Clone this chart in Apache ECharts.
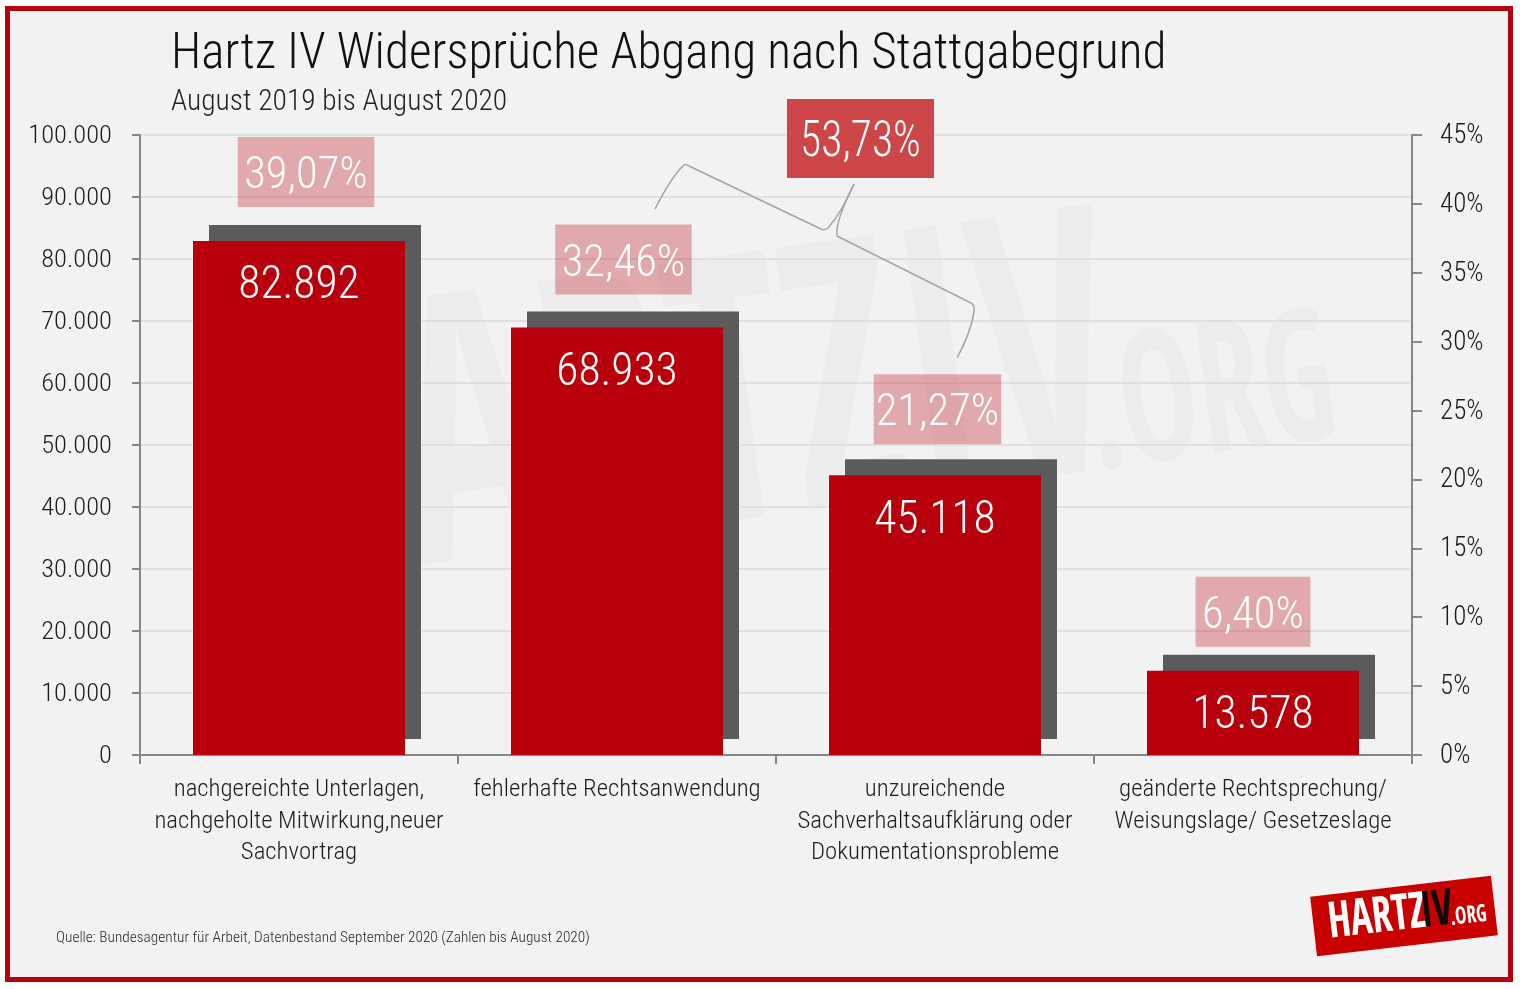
<!DOCTYPE html>
<html>
<head>
<meta charset="utf-8">
<title>Hartz IV Widersprüche</title>
<script src="https://cdn.jsdelivr.net/npm/echarts@6/dist/echarts.min.js"></script>
<style>
  html, body { margin: 0; padding: 0; background: #fff; }
  #chart { width: 1520px; height: 989px; }
</style>
</head>
<body>
<div id="chart"></div>
<script>
var categories = [
  'nachgereichte Unterlagen,\nnachgeholte Mitwirkung,neuer\nSachvortrag',
  'fehlerhafte Rechtsanwendung',
  'unzureichende\nSachverhaltsaufklärung oder\nDokumentationsprobleme',
  'geänderte Rechtsprechung/\nWeisungslage/ Gesetzeslage'
]
var counts = [82892, 68933, 45118, 13578]
var shares = ['39,07%', '32,46%', '21,27%', '6,40%']
var combinedShare = '53,73%'

var titleText = 'Hartz IV Widersprüche Abgang nach Stattgabegrund'
var subtitleText = 'August 2019 bis August 2020'
var sourceText = 'Quelle: Bundesagentur für Arbeit, Datenbestand September 2020 (Zahlen bis August 2020)'

var narrow = '"Roboto Condensed Light", "Roboto Condensed", sans-serif'
var heavy = '"Open Sans Condensed", "Roboto Condensed", sans-serif'
var red = '#b7000b'
var braceColor = '#a3a3a3'
var watermarkColor = 'rgba(0,0,0,0.022)'

function dotted(v) {
  return String(v).replace(/\B(?=(\d{3})+$)/g, '.')
}

// one piece of the bracket between the three share labels
function curve(x1, y1, cx, cy, x2, y2) {
  return {
    type: 'bezierCurve',
    z: 10,
    shape: { x1: x1, y1: y1, cpx1: cx, cpy1: cy, x2: x2, y2: y2 },
    style: { fill: null, stroke: braceColor, lineWidth: 1.5 }
  }
}
function straight(x1, y1, x2, y2) {
  return {
    type: 'line',
    z: 10,
    shape: { x1: x1, y1: y1, x2: x2, y2: y2 },
    style: { stroke: braceColor, lineWidth: 1.5 }
  }
}

// the share boxes do not sit the same way on every bar
var shareLabelOffsets = [[7, 0], [6.5, 1], [2.5, 3], [0, 10]]
var shareLabelSidePadding = [6.5, 6.5, 2, 6.5]

var chart = echarts.init(document.getElementById('chart'))

var option = {
  animation: false,
  textStyle: { fontFamily: narrow },
  title: {
    text: titleText,
    subtext: subtitleText,
    left: 166,
    top: 24,
    itemGap: 8,
    textStyle: { fontFamily: narrow, fontSize: 49.2, fontWeight: 'normal', color: '#111' },
    subtextStyle: { fontFamily: narrow, fontSize: 29.5, color: '#222' }
  },
  grid: { left: 140, right: 108, top: 135, bottom: 234 },
  xAxis: {
    type: 'category',
    data: categories,
    axisLine: { lineStyle: { color: '#868686', width: 2 } },
    axisTick: { show: true, alignWithLabel: false, length: 9, lineStyle: { color: '#868686', width: 2 } },
    axisLabel: { fontFamily: narrow, fontSize: 24.8, lineHeight: 31.5, color: '#1c1c1c', margin: 18, interval: 0 }
  },
  yAxis: [
    {
      type: 'value',
      min: 0,
      max: 100000,
      interval: 10000,
      axisLine: { show: true, lineStyle: { color: '#868686', width: 2 } },
      axisTick: { show: true, length: 8, lineStyle: { color: '#868686', width: 2 } },
      axisLabel: { fontFamily: narrow, fontSize: 26.5, color: '#1c1c1c', margin: 28, formatter: dotted },
      splitLine: { lineStyle: { color: '#e0e0e0', width: 2 } }
    },
    {
      type: 'value',
      min: 0,
      max: 45,
      interval: 5,
      position: 'right',
      axisLine: { show: true, lineStyle: { color: '#868686', width: 2 } },
      axisTick: { show: true, length: 10, lineStyle: { color: '#868686', width: 2 } },
      axisLabel: { fontFamily: narrow, fontSize: 27, color: '#1c1c1c', margin: 28, formatter: '{value}%' },
      splitLine: { show: false }
    }
  ],
  series: [
    {
      name: 'Abgang',
      type: 'bar',
      data: counts,
      barWidth: 212,
      itemStyle: {
        color: red,
        shadowColor: '#5b5b5b',
        shadowBlur: 0,
        shadowOffsetX: 16,
        shadowOffsetY: -16
      },
      label: {
        show: true,
        position: 'insideTop',
        distance: 21,
        color: '#fff',
        fontFamily: narrow,
        fontSize: 45.5,
        formatter: function (p) { return dotted(p.value) }
      },
      silent: true
    },
    {
      name: 'Anteil',
      type: 'bar',
      data: counts.map(function (v, i) {
        var side = shareLabelSidePadding[i]
        return { value: v, label: { offset: shareLabelOffsets[i], padding: [6, side, 0, side] } }
      }),
      barWidth: 212,
      barGap: '-100%',
      itemStyle: { color: 'transparent' },
      label: {
        show: true,
        position: 'top',
        distance: 34,
        height: 64,
        lineHeight: 64,
        color: '#fff',
        fontFamily: narrow,
        fontSize: 44.5,
        backgroundColor: 'rgba(190, 0, 12, 0.3)',
        formatter: function (p) { return shares[p.dataIndex] }
      },
      silent: true
    }
  ],
  graphic: [
    // frame and page colour
    {
      type: 'rect',
      z: -100,
      shape: { x: 7.5, y: 8.5, width: 1503, height: 971 },
      style: { fill: '#f2f2f2', stroke: '#b3050e', lineWidth: 5 }
    },
    // watermark
    {
      type: 'text',
      z: -50,
      x: 685,
      y: 430,
      scaleX: 0.72,
      rotation: 8 * Math.PI / 180,
      style: {
        text: 'HARTZIV',
        fontFamily: heavy,
        fontSize: 370,
        fill: watermarkColor,
        align: 'center',
        verticalAlign: 'middle'
      }
    },
    {
      type: 'text',
      z: -50,
      x: 1212,
      y: 405,
      scaleX: 0.72,
      rotation: 8 * Math.PI / 180,
      style: {
        text: '.ORG',
        fontFamily: heavy,
        fontSize: 183,
        fill: watermarkColor,
        align: 'center',
        verticalAlign: 'middle'
      }
    },
    // combined share with its bracket
    {
      type: 'rect',
      z: 10,
      shape: { x: 787, y: 99, width: 147, height: 79 },
      style: { fill: '#cd4749' }
    },
    {
      type: 'text',
      z: 11,
      x: 860.5,
      y: 141,
      scaleX: 0.87,
      style: {
        text: combinedShare,
        fontFamily: narrow,
        fontSize: 50,
        fill: '#fff',
        align: 'center',
        verticalAlign: 'middle'
      }
    },
    curve(655, 209, 672, 176, 683, 166),
    curve(683, 166, 685, 163, 689, 166),
    straight(689, 166, 821, 229),
    curve(821, 229, 824, 231, 828, 228),
    curve(828, 228, 842, 212, 854, 184),
    curve(854, 184, 835, 222, 837, 236),
    straight(837, 236, 971, 303),
    curve(971, 303, 975, 305, 974, 312),
    curve(974, 312, 970, 335, 957, 358),
    // source line
    {
      type: 'text',
      x: 56,
      y: 937,
      style: {
        text: sourceText,
        fontFamily: narrow,
        fontSize: 15.3,
        fill: '#2a2a2a',
        verticalAlign: 'middle'
      }
    },
    // logo
    {
      type: 'group',
      x: 1404,
      y: 916,
      rotation: 6.6 * Math.PI / 180,
      children: [
        { type: 'rect', shape: { x: -91, y: -30, width: 182, height: 60 }, style: { fill: '#c80000' } },
        {
          type: 'text', x: -76, y: 0, z: 1, scaleX: 0.8,
          style: { text: 'HARTZ', fontFamily: heavy, fontSize: 50, fill: '#fff', verticalAlign: 'middle' }
        },
        {
          type: 'text', x: 17, y: 0, z: 1, scaleX: 0.8,
          style: { text: 'IV', fontFamily: heavy, fontSize: 50, fill: '#0b0b0b', verticalAlign: 'middle' }
        },
        {
          type: 'text', x: 46, y: 8, z: 1, scaleX: 0.8,
          style: { text: '.ORG', fontFamily: heavy, fontSize: 24, fill: '#fff', verticalAlign: 'middle' }
        }
      ]
    }
  ]
}

chart.setOption(option)
</script>
</body>
</html>
